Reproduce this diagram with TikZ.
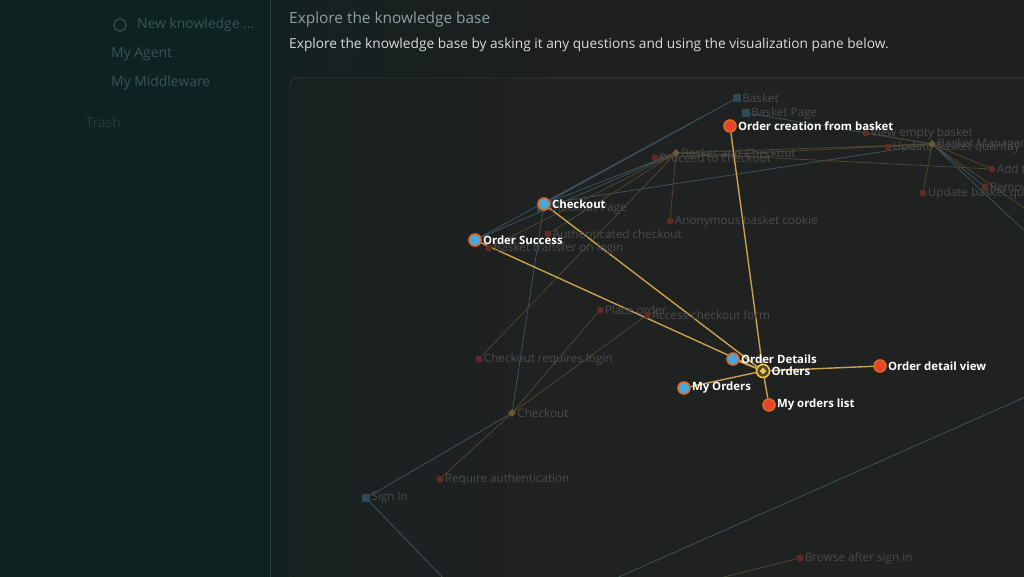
\documentclass[tikz,border=0pt]{standalone}
\usepackage{fontspec}
\setmainfont{Open Sans}
\usetikzlibrary{shapes.geometric,backgrounds}

\definecolor{sidebg}{HTML}{0F2222}
\definecolor{mainbg}{HTML}{1E1F1F}
\definecolor{panelbg}{HTML}{202121}
\definecolor{panelln}{HTML}{323434}
\definecolor{sidetxt}{HTML}{365454}
\definecolor{titletxt}{HTML}{8A9FA6}
\definecolor{subtxt}{HTML}{DADCDC}
\definecolor{hired}{HTML}{E8432E}
\definecolor{hiblue}{HTML}{4AA6DC}
\definecolor{hiring}{HTML}{D9691F}
\definecolor{hiyellow}{HTML}{F0C44A}
\definecolor{hiedge}{HTML}{C9A24E}
\definecolor{fadetxt}{HTML}{4A4B4B}
\definecolor{fadered}{HTML}{5E2B25}
\definecolor{fadesq}{HTML}{2F4A57}
\definecolor{fadedia}{HTML}{6A5C34}
\definecolor{fadeblue}{HTML}{3C525C}
\definecolor{fadegold}{HTML}{4E4530}

\newcommand\hifont{\fontsize{11.4}{13}\selectfont\bfseries}
\newcommand\fadefont{\fontsize{11.7}{13}\selectfont}
\newcommand\sidefont{\fontsize{13.9}{16}\selectfont}

\pgfdeclarelayer{edges}
\pgfsetlayers{background,edges,main}

\tikzset{
  hilbl/.style={text=white,font=\hifont,inner sep=1pt},
  fadelbl/.style={text=fadetxt,font=\fadefont,inner sep=1pt},
  hired/.style={circle,fill=hired,draw=hiring,line width=1.6pt,minimum size=12pt,inner sep=0pt,label={[hilbl]right:#1}},
  hiblue/.style={circle,fill=hiblue,draw=hiring,line width=1.6pt,minimum size=12pt,inner sep=0pt,label={[hilbl]right:#1}},
  fadedot/.style={circle,fill=fadered,minimum size=7pt,inner sep=0pt,label={[fadelbl]right:#1}},
  fadesq/.style={rectangle,fill=fadesq,minimum size=8pt,inner sep=0pt,label={[fadelbl]right:#1}},
  fadedia/.style={diamond,fill=fadedia,minimum size=8pt,inner sep=0pt,label={[fadelbl]right:#1}},
  sidelbl/.style={anchor=west,text=sidetxt,font=\sidefont,inner sep=0pt},
  hiline/.style={draw=hiedge,line width=1.4pt},
  blueline/.style={draw=fadeblue,line width=0.8pt},
  goldline/.style={draw=fadegold,line width=0.8pt},
}

\begin{document}
\begin{tikzpicture}[x=1pt,y=-1pt]
\useasboundingbox (0,0) rectangle (1024,576);
\clip (0,0) rectangle (1024,576);

\begin{pgfonlayer}{background}
  \fill[mainbg] (270,-5) rectangle (1030,581); %main area
  \shade[left color=sidebg!70!mainbg,right color=mainbg] (270,-5) rectangle (560,581); %teal glow
  \fill[panelbg,draw=panelln,line width=1pt,rounded corners=8pt] (290,600)--(290,78)--(1040,78)--(1040,600)--cycle; %panel
  \shade[left color=sidebg!45!panelbg,right color=panelbg,rounded corners=8pt] (290.5,600)--(290.5,78.5)--(520,78.5)--(520,600)--cycle;
  \fill[sidebg] (-5,-5) rectangle (270,581); %sidebar
  \draw[sidebg!70!white!40!mainbg,line width=1pt] (270,-5)--(270,581);
\end{pgfonlayer}

% sidebar
\node[circle,draw=sidetxt,line width=1pt,minimum size=12pt,inner sep=0pt] (kbicon) at (120,25) {};
\node[sidelbl] (kb) at (137,25) {New knowledge ...};
\node[sidelbl] (agent) at (111,54) {My Agent};
\node[sidelbl] (mw) at (111,83) {My Middleware};
\node[sidelbl,anchor=east,text=sidetxt!55!sidebg] (trash) at (121,122) {Trash};

% header
\node[anchor=west,text=titletxt,font=\fontsize{15.4}{18}\selectfont,inner sep=0pt] (title) at (289,19) {Explore the knowledge base};
\node[anchor=west,text=subtxt,font=\fontsize{13.7}{16}\selectfont,inner sep=0pt] (sub) at (289,45) {Explore the knowledge base by asking it any questions and using the visualization pane below.};

% faded graph
\node[fadesq=Basket] (bsk) at (737,98) {};
\node[fadesq=Basket Page] (bskp) at (746,113) {};
\node[fadedia=Basket and Checkout] (bac) at (676,153) {};
\node[fadedot=Proceed to checkout] (ptc) at (655,158) {};
\node[fadedot=View empty basket] (veb) at (866,133) {};
\node[fadedot=Update basket quantity] (ubq) at (888,147) {};
\node[fadedia=Basket Management] (bm) at (932,144) {};
\node[fadedot=Add to basket] (add) at (992,169) {};
\node[fadedot=Remove from basket] (rem) at (985,187) {};
\node[fadedot=Update basket quantity] (ubq2) at (923,193) {};
\node[fadesq=Checkout Page] (chkp) at (541,208) {};
\node[fadedot=Anonymous basket cookie] (abc) at (670,221) {};
\node[fadedot=Authenticated checkout] (auc) at (548,234) {};
\node[fadedot=Basket transfer on login] (btl) at (489,248) {};
\node[fadedot=Place order] (po) at (600,310) {};
\node[fadedot=Access checkout form] (acf) at (647,315) {};
\node[fadedot=Checkout requires login] (crl) at (479,359) {};
\node[fadedia=Checkout] (chkd) at (512,413) {};
\node[fadedot=Require authentication] (ra) at (440,479) {};
\node[fadesq=Sign In] (si) at (366,498) {};
\node[fadedot=Browse after sign in] (bas) at (800,558) {};
\coordinate (off1) at (445,580);
\coordinate (off2) at (612,580);
\coordinate (off3) at (1030,395);
\coordinate (off4) at (712,580);
\coordinate (off5) at (1030,212);
\coordinate (off6) at (1030,236);

% highlighted graph
\node[hired=Order creation from basket] (ocb) at (730,126) {};
\node[hiblue=Checkout] (chk) at (544,204) {};
\node[hiblue=Order Success] (osucc) at (475,240) {};
\node[hiblue=Order Details] (odet) at (733,359) {};
\node[circle,fill=fadedia!60!mainbg,draw=hiyellow,line width=1.6pt,minimum size=13pt,inner sep=0pt,label={[hilbl]right:Orders}] (ord) at (763,371) {};
\node[diamond,fill=hiyellow,minimum size=7pt,inner sep=0pt] (ordd) at (ord) {};
\node[hiblue=My Orders] (myo) at (684,388) {};
\node[hired=My orders list] (myol) at (769,405) {};
\node[hired=Order detail view] (odv) at (880,366) {};

\begin{pgfonlayer}{edges}
  \draw[blueline] (bsk)--(chk) (bsk)--(osucc) (bskp)--(bm) (chk)--(bm) (chk)--(bac) (osucc)--(bac); %blue links
  \draw[blueline] (chkd)--(chk) (si)--(chkd) (si)--(off1) (off2)--(off3) (bm)--(rem) (bm)--(off6);
  \draw[goldline] (bac)--(ptc) (bac)--(abc) (bac)--(auc) (bac)--(btl) (bac)--(crl) (bac)--(bm) (bac)--(add) (ptc)--(bm); %gold links
  \draw[goldline] (bm)--(veb) (bm)--(ubq) (bm)--(add) (bm)--(ubq2) (bm)--(off5);
  \draw[goldline] (po)--(chkd) (acf)--(chkd) (ra)--(chkd) (bas)--(off4);
  \draw[hiline] (ocb)--(ord) (chk)--(ord) (osucc)--(ord) (odet)--(ord) (myo)--(ord) (myol)--(ord) (odv)--(ord); %orders
\end{pgfonlayer}
\end{tikzpicture}
\end{document}
